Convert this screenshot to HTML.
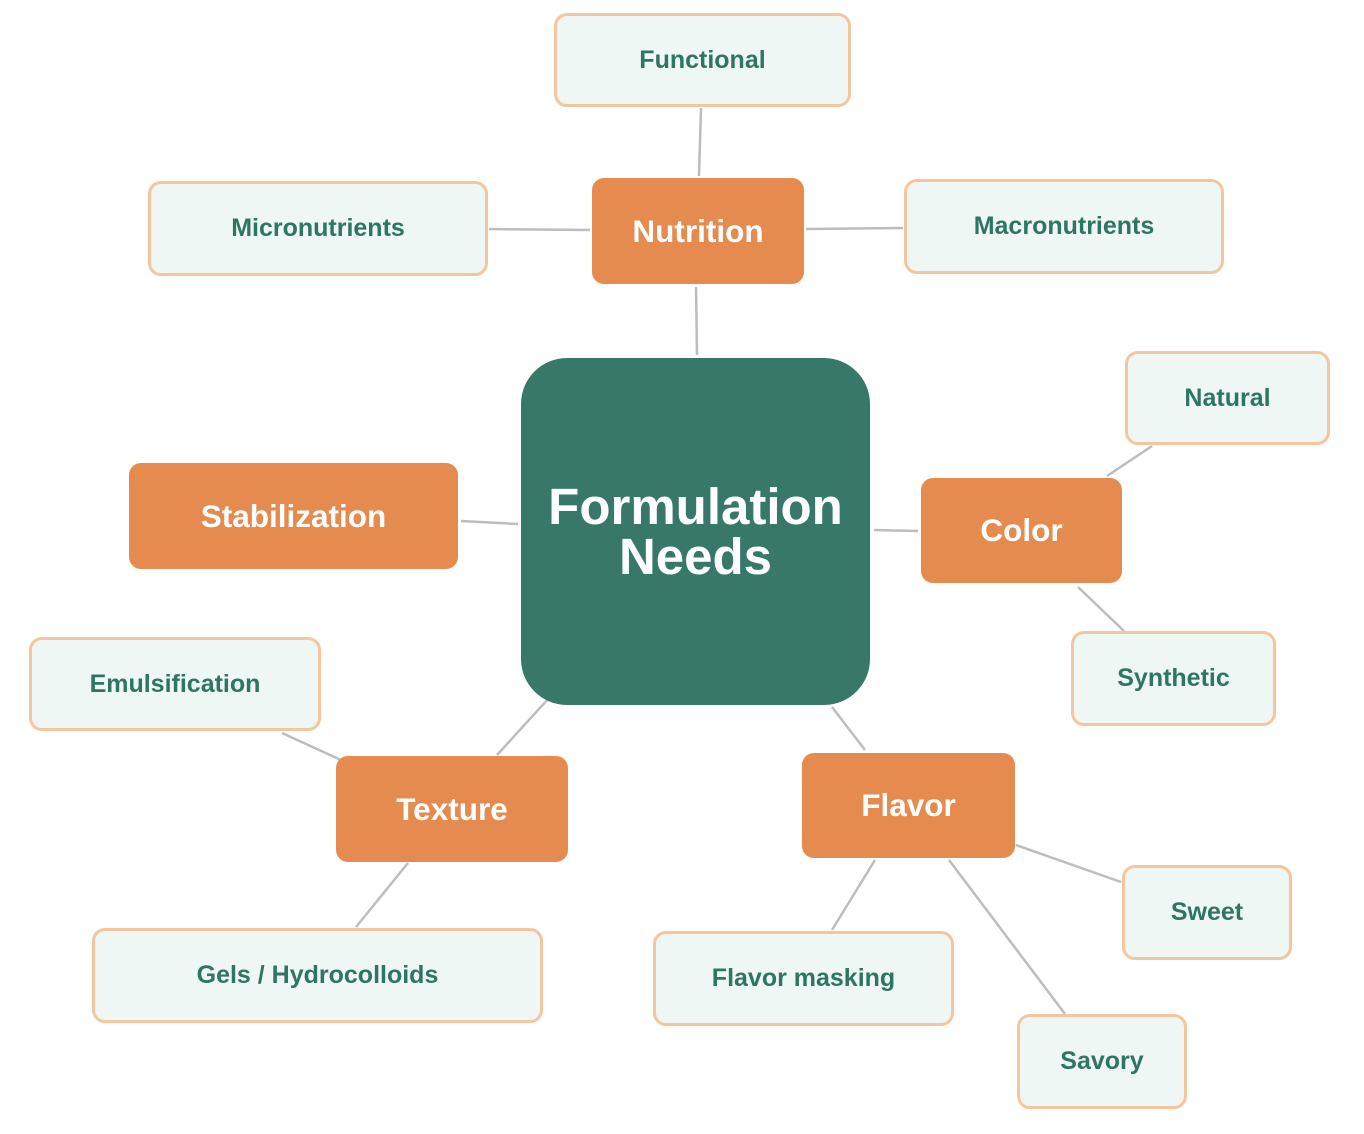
<!DOCTYPE html>
<html><head><meta charset="utf-8"><style>
html,body{margin:0;padding:0;background:#fff;}
body{width:1364px;height:1134px;position:relative;overflow:hidden;font-family:"Liberation Sans",Arial,sans-serif;font-weight:bold;}
.n{position:absolute;box-sizing:border-box;display:flex;align-items:center;justify-content:center;text-align:center;}
.o{background:#E58B4F;color:#fff;border-radius:12px;font-size:31.5px;}
.l{background:#EEF7F3;border:3px solid #F5C59E;color:#2F7563;border-radius:13px;font-size:25px;}
.c{background:#377868;color:#fff;border-radius:46px;font-size:51px;line-height:50px;}
svg{position:absolute;left:0;top:0;}
</style></head><body>
<svg width="1364" height="1134"><g stroke="#BDBDBD" stroke-width="2.5" fill="none">
<line x1="701" y1="108" x2="699" y2="176"/>
<line x1="489" y1="229" x2="590" y2="230"/>
<line x1="806" y1="229" x2="903" y2="228"/>
<line x1="696" y1="287" x2="697" y2="355"/>
<line x1="461" y1="521" x2="518" y2="524"/>
<line x1="874" y1="530" x2="918" y2="531"/>
<line x1="1107" y1="476" x2="1152" y2="446"/>
<line x1="1078" y1="587" x2="1124" y2="631"/>
<line x1="549" y1="698" x2="497" y2="755"/>
<line x1="832" y1="707" x2="865" y2="750"/>
<line x1="282" y1="733" x2="341" y2="760"/>
<line x1="408" y1="863" x2="356" y2="927"/>
<line x1="875" y1="860" x2="832" y2="930"/>
<line x1="949" y1="860" x2="1065" y2="1014"/>
<line x1="1016" y1="845" x2="1121" y2="882"/>
</g></svg>
<div class="n c" style="left:521px;top:358px;width:349px;height:347px;">Formulation<br>Needs</div>
<div class="n o" style="left:592px;top:178px;width:212px;height:106px;">Nutrition</div>
<div class="n o" style="left:129px;top:463px;width:329px;height:106px;">Stabilization</div>
<div class="n o" style="left:921px;top:478px;width:201px;height:105px;">Color</div>
<div class="n o" style="left:336px;top:756px;width:232px;height:106px;">Texture</div>
<div class="n o" style="left:802px;top:753px;width:213px;height:105px;">Flavor</div>
<div class="n l" style="left:554px;top:13px;width:297px;height:94px;">Functional</div>
<div class="n l" style="left:148px;top:181px;width:340px;height:95px;">Micronutrients</div>
<div class="n l" style="left:904px;top:179px;width:320px;height:95px;">Macronutrients</div>
<div class="n l" style="left:1125px;top:351px;width:205px;height:94px;">Natural</div>
<div class="n l" style="left:1071px;top:631px;width:205px;height:95px;">Synthetic</div>
<div class="n l" style="left:29px;top:637px;width:292px;height:94px;">Emulsification</div>
<div class="n l" style="left:92px;top:928px;width:451px;height:95px;">Gels / Hydrocolloids</div>
<div class="n l" style="left:1122px;top:865px;width:170px;height:95px;">Sweet</div>
<div class="n l" style="left:653px;top:931px;width:301px;height:95px;">Flavor masking</div>
<div class="n l" style="left:1017px;top:1014px;width:170px;height:95px;">Savory</div>
</body></html>
